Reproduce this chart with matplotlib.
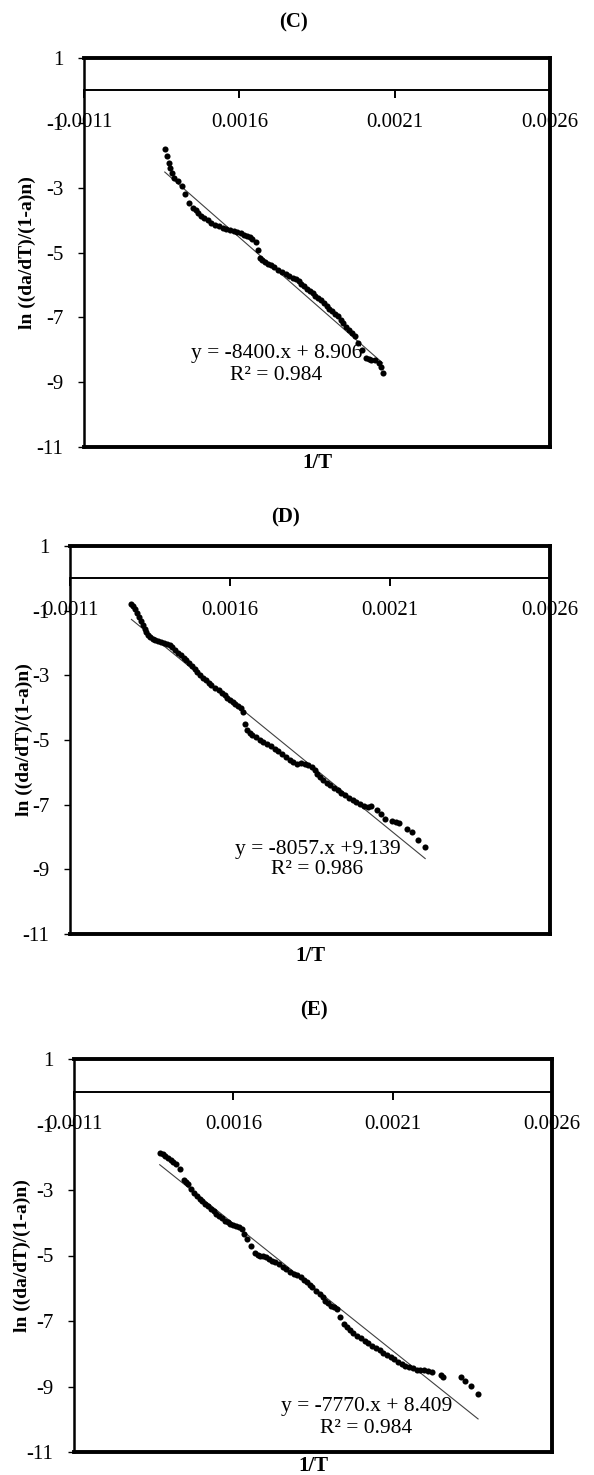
import matplotlib
matplotlib.use("Agg")
import matplotlib.pyplot as plt

plt.rcParams["font.family"] = ["Liberation Serif", "DejaVu Serif"]
plt.rcParams["axes.unicode_minus"] = False

# ---- data ----
c_x = [0.001360, 0.001366, 0.001372, 0.001378, 0.001384, 0.001390, 0.001402, 0.001414,
       0.001426, 0.001438, 0.001450, 0.001459, 0.001468, 0.001477, 0.001486, 0.001498,
       0.001510, 0.001522, 0.001534, 0.001546, 0.001558, 0.001570, 0.001582, 0.001594,
       0.001606, 0.001615, 0.001624, 0.001633, 0.001641, 0.001653, 0.001659, 0.001665,
       0.001674, 0.001683, 0.001692, 0.001701, 0.001713, 0.001725, 0.001737, 0.001749,
       0.001761, 0.001773, 0.001782, 0.001791, 0.001800, 0.001809, 0.001818, 0.001827,
       0.001836, 0.001845, 0.001854, 0.001863, 0.001872, 0.001881, 0.001890, 0.001899,
       0.001908, 0.001917, 0.001926, 0.001935, 0.001944, 0.001953, 0.001962, 0.001971,
       0.001983, 0.001995, 0.002007, 0.002016, 0.002025, 0.002037, 0.002049, 0.002055,
       0.002061]
c_y = [-1.81, -2.02, -2.23, -2.39, -2.54, -2.70, -2.78, -2.95,
       -3.21, -3.46, -3.62, -3.70, -3.77, -3.86, -3.93, -4.01,
       -4.08, -4.14, -4.19, -4.24, -4.27, -4.31, -4.34, -4.37,
       -4.41, -4.46, -4.50, -4.53, -4.58, -4.68, -4.91, -5.17,
       -5.24, -5.30, -5.35, -5.40, -5.46, -5.53, -5.59, -5.65,
       -5.72, -5.79, -5.83, -5.89, -5.96, -6.04, -6.12, -6.20,
       -6.26, -6.33, -6.39, -6.46, -6.55, -6.64, -6.73, -6.82,
       -6.89, -6.97, -7.08, -7.18, -7.29, -7.39, -7.49, -7.59,
       -7.80, -8.00, -8.26, -8.30, -8.31, -8.31, -8.42, -8.52,
       -8.73]

d_x = [0.001292, 0.001297, 0.001303, 0.001309, 0.001315, 0.001321, 0.001327, 0.001333,
       0.001338, 0.001344, 0.001350, 0.001358, 0.001367, 0.001376, 0.001385, 0.001394,
       0.001402, 0.001411, 0.001420, 0.001428, 0.001437, 0.001446, 0.001455, 0.001463,
       0.001472, 0.001481, 0.001490, 0.001498, 0.001507, 0.001516, 0.001524, 0.001533,
       0.001542, 0.001553, 0.001565, 0.001574, 0.001583, 0.001591, 0.001600, 0.001609,
       0.001617, 0.001626, 0.001635, 0.001641, 0.001647, 0.001652, 0.001661, 0.001670,
       0.001681, 0.001693, 0.001704, 0.001716, 0.001728, 0.001740, 0.001751, 0.001763,
       0.001774, 0.001786, 0.001798, 0.001809, 0.001821, 0.001833, 0.001845, 0.001856,
       0.001865, 0.001873, 0.001882, 0.001891, 0.001902, 0.001914, 0.001925, 0.001937,
       0.001948, 0.001960, 0.001972, 0.001984, 0.001995, 0.002007, 0.002018, 0.002030,
       0.002042, 0.002059, 0.002071, 0.002083, 0.002106, 0.002118, 0.002129, 0.002152,
       0.002170, 0.002187, 0.002210]
d_y = [-0.80, -0.87, -0.94, -1.07, -1.20, -1.33, -1.45, -1.56,
       -1.66, -1.74, -1.81, -1.87, -1.92, -1.95, -1.97, -2.00,
       -2.02, -2.06, -2.12, -2.21, -2.30, -2.38, -2.47, -2.54,
       -2.62, -2.70, -2.79, -2.89, -2.98, -3.07, -3.15, -3.23,
       -3.31, -3.38, -3.46, -3.54, -3.62, -3.70, -3.77, -3.84,
       -3.90, -3.95, -4.00, -4.13, -4.49, -4.70, -4.78, -4.85,
       -4.92, -4.99, -5.05, -5.11, -5.19, -5.27, -5.35, -5.42,
       -5.53, -5.63, -5.69, -5.73, -5.72, -5.73, -5.77, -5.83,
       -5.94, -6.04, -6.14, -6.24, -6.32, -6.40, -6.47, -6.55,
       -6.63, -6.71, -6.79, -6.86, -6.93, -6.99, -7.03, -7.07,
       -7.05, -7.17, -7.30, -7.43, -7.50, -7.53, -7.58, -7.74,
       -7.84, -8.10, -8.30]

e_x = [0.001369, 0.001378, 0.001386, 0.001395, 0.001404, 0.001412, 0.001421, 0.001433,
       0.001445, 0.001451, 0.001457, 0.001468, 0.001477, 0.001486, 0.001494, 0.001503,
       0.001512, 0.001521, 0.001530, 0.001538, 0.001547, 0.001556, 0.001565, 0.001573,
       0.001582, 0.001591, 0.001600, 0.001608, 0.001617, 0.001626, 0.001635, 0.001644,
       0.001655, 0.001667, 0.001676, 0.001685, 0.001694, 0.001702, 0.001711, 0.001720,
       0.001731, 0.001743, 0.001755, 0.001766, 0.001778, 0.001790, 0.001801, 0.001813,
       0.001822, 0.001831, 0.001840, 0.001848, 0.001860, 0.001872, 0.001880, 0.001889,
       0.001898, 0.001907, 0.001915, 0.001924, 0.001936, 0.001948, 0.001957, 0.001965,
       0.001977, 0.001989, 0.002000, 0.002012, 0.002024, 0.002035, 0.002047, 0.002059,
       0.002070, 0.002082, 0.002094, 0.002105, 0.002117, 0.002129, 0.002140, 0.002152,
       0.002164, 0.002175, 0.002187, 0.002199, 0.002210, 0.002222, 0.002251, 0.002257,
       0.002316, 0.002327, 0.002345, 0.002368]
e_y = [-1.86, -1.90, -1.96, -2.01, -2.07, -2.14, -2.22, -2.37,
       -2.68, -2.75, -2.83, -2.98, -3.08, -3.18, -3.26, -3.34,
       -3.42, -3.49, -3.57, -3.64, -3.72, -3.79, -3.87, -3.94,
       -3.99, -4.03, -4.07, -4.10, -4.14, -4.20, -4.35, -4.50,
       -4.71, -4.91, -4.97, -5.01, -5.03, -5.06, -5.11, -5.16,
       -5.21, -5.26, -5.34, -5.42, -5.49, -5.55, -5.61, -5.67,
       -5.74, -5.82, -5.90, -5.97, -6.08, -6.18, -6.28, -6.38,
       -6.46, -6.53, -6.58, -6.63, -6.89, -7.09, -7.19, -7.29,
       -7.37, -7.45, -7.53, -7.60, -7.68, -7.75, -7.83, -7.90,
       -7.97, -8.03, -8.10, -8.16, -8.24, -8.31, -8.36, -8.41,
       -8.45, -8.49, -8.50, -8.51, -8.53, -8.56, -8.66, -8.72,
       -8.72, -8.84, -8.97, -9.22]

titles = ["(C)", "(D)", "(E)"]
slopes = [-8400, -8057, -7770]
intercepts = [8.906, 9.139, 8.409]
eq_texts = ["y = -8400.x + 8.906", "y = -8057.x +9.139", "y = -7770.x + 8.409"]
r2_texts = ["R² = 0.984", "R² = 0.986", "R² = 0.984"]

x_ticks = [0.0011, 0.0016, 0.0021, 0.0026]
x_tick_labels = ["0.0011", "0.0016", "0.0021", "0.0026"]
y_ticks = [1, -1, -3, -5, -7, -9, -11]
y_tick_labels = ["1", "-1", "-3", "-5", "-7", "-9", "-11"]

# ---- layout (pixels of the 594x1475 picture) ----
W, H = 594, 1475
boxes = [(84, 550, 58, 447), (70, 550, 546, 934), (74, 552, 1059, 1452)]
title_pos = [(293, 22), (286, 517), (314, 1010)]
xlabel_y = [-0.016, -0.030, -0.010]
ylabel_x = [-0.122, -0.095, -0.108]
eq_pos = [(0.00172, -8.11, -8.78), (0.001873, -8.39, -9.02), (0.002018, -9.61, -10.29)]

fig = plt.figure(figsize=(W / 100, H / 100), dpi=100)

series = [(c_x, c_y), (d_x, d_y), (e_x, e_y)]
for i, (xs, ys) in enumerate(series):
    l, r, t, b = boxes[i]
    ax = fig.add_axes([l / W, 1 - b / H, (r - l) / W, (b - t) / H])
    ax.set_xlim(0.0011, 0.0026)
    ax.set_ylim(-11, 1)

    ax.plot(xs, ys, "o", color="black", ms=4.4, mew=0, zorder=3)
    fx = [min(xs), max(xs)]
    fy = [slopes[i] * v + intercepts[i] for v in fx]
    ax.plot(fx, fy, color="#404040", lw=0.8, zorder=2)

    # plot-area frame; the x axis itself crosses at y = 0
    ax.spines["top"].set_linewidth(2.8)
    ax.spines["right"].set_linewidth(2.8)
    ax.spines["left"].set_linewidth(1.8)
    ax.plot([0, 1], [0, 0], transform=ax.transAxes, color="black", lw=2.8,
            clip_on=False, solid_capstyle="projecting", zorder=5)
    ax.spines["bottom"].set_position(("data", 0))
    ax.spines["bottom"].set_linewidth(1.4)

    ax.set_xticks(x_ticks)
    ax.set_xticklabels([])
    ax.tick_params(axis="x", direction="out", length=6, width=1.4)
    for xv, lab in zip(x_ticks, x_tick_labels):
        ax.text(xv, -1, lab, ha="center", va="center", fontsize=15)

    ax.set_yticks(y_ticks)
    ax.set_yticklabels(y_tick_labels, fontsize=15)
    ax.tick_params(axis="y", direction="out", length=4, width=1.0, pad=11)

    ax.set_ylabel("ln ((da/dT)/(1-a)n)", fontsize=14, fontweight="bold")
    ax.yaxis.label.set_verticalalignment("center")
    ax.yaxis.set_label_coords(ylabel_x[i], 0.5)
    ax.set_xlabel("1/T", fontsize=15, fontweight="bold")
    ax.xaxis.set_label_coords(0.5, xlabel_y[i])

    ex, ey1, ey2 = eq_pos[i]
    ax.text(ex, ey1, eq_texts[i], ha="center", va="center", fontsize=15.5)
    ax.text(ex, ey2, r2_texts[i], ha="center", va="center", fontsize=15.5)

    tx, ty = title_pos[i]
    fig.text(tx / W, 1 - ty / H, titles[i], ha="center", va="center",
             fontsize=15, fontweight="bold")

fig.savefig("out.png", dpi=100)
plt.close(fig)
